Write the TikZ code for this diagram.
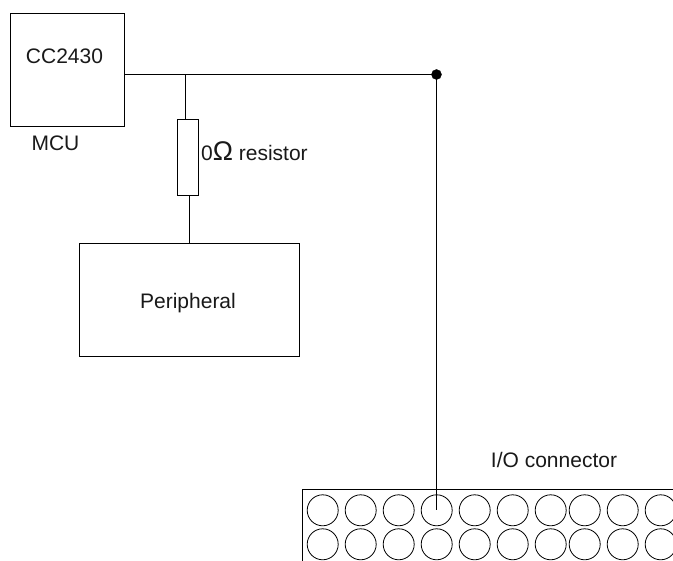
\documentclass[tikz,border=0pt]{standalone}
\usepackage{fontspec}
\setmainfont{Liberation Sans}
\tikzset{
  box/.style={draw,line width=1pt,inner sep=0pt,outer sep=0pt,anchor=north west},
  wire/.style={line width=1pt},
  pin/.style={draw,circle,line width=0.8pt,minimum size=31pt,inner sep=0pt,outer sep=0pt},
  lbl/.style={inner sep=0pt,font=\fontsize{21}{24}\selectfont,text=black!90},
}
\begin{document}
\begin{tikzpicture}[x=1pt,y=-1pt]
\useasboundingbox (0,0) rectangle (673,561);
\clip (0,0) rectangle (673,561);
\node[box,minimum width=114pt,minimum height=113pt] (mcu) at (10.5,13.5) {};
\node[box,minimum width=21pt,minimum height=76pt] (res) at (177.5,119.5) {};
\node[box,minimum width=220pt,minimum height=113pt] (per) at (79,243.5) {};
\node[draw,circle,fill=black,minimum size=10pt,inner sep=0pt] (dot) at (436.5,74.5) {};
\coordinate (mcuout) at (124.5,74.5);
\coordinate (tee) at (185,74.5);
\coordinate (restop) at (185,119.5);
\coordinate (resbot) at (189,195.5);
\coordinate (pertop) at (189,243.5);
\coordinate (pinend) at (436.5,510);
\draw[wire] (mcuout) -- (tee) -- (dot.center);
\draw[wire] (tee) -- (restop);
\draw[wire] (resbot) -- (pertop);
\foreach \n/\x in {a/322.7,b/360.7,c/398.7,d/436.7,e/474.7,f/512.7,g/550.7,h/584.7,i/622.7,j/660.7}{
  \node[pin] (t\n) at (\x,510.3) {};
  \node[pin] (u\n) at (\x,544.3) {};
}
\draw[wire] (dot.center) -- (pinend);
\coordinate (cl) at (302,561);
\coordinate (ct) at (302,489.8);
\coordinate (cr) at (673,489.8);
\draw[wire] (cl) -- (ct) -- (cr);
\node[lbl] (t1) at (64.5,56) {CC2430};
\node[lbl] (t2) at (55.5,143) {MCU};
\node[lbl,anchor=west] (t3) at (201,151) {0{\fontsize{27}{27}\selectfont Ω} resistor};
\node[lbl] (t4) at (188,303.5) {Peripheral};
\node[lbl] (t5) at (554,460) {I/O connector};
\end{tikzpicture}
\end{document}
